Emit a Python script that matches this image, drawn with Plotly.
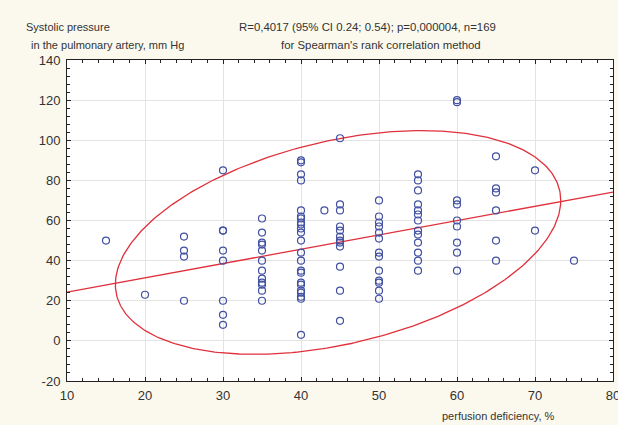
import numpy as np
import plotly.graph_objects as go

# ---- data ----
perfusion = (
    [15] + [20] + [25] * 4 + [30] * 8 + [35] * 12 + [40] * 23 + [43]
    + [45] * 12 + [50] * 13 + [55] * 13 + [60] * 9 + [65] * 6 + [70] * 2 + [75]
)
pressure = (
    [50]
    + [23]
    + [52, 45, 42, 20]
    + [85, 55, 55, 45, 40, 20, 13, 8]
    + [61, 54, 49, 48, 45, 40, 35, 31, 29, 28, 25, 20]
    + [90, 89, 83, 80, 65, 62, 61, 59, 58, 56, 54, 50, 44, 40, 35, 34, 29, 28, 25, 24, 22, 21, 3]
    + [65]
    + [101, 68, 65, 57, 55, 52, 50, 49, 47, 37, 25, 10]
    + [70, 62, 59, 57, 54, 51, 44, 42, 35, 30, 29, 25, 21]
    + [83, 80, 75, 68, 65, 63, 60, 55, 53, 49, 44, 40, 35]
    + [120, 119, 70, 68, 60, 57, 49, 44, 35]
    + [92, 76, 74, 65, 50, 40]
    + [85, 55]
    + [40]
)

# regression line parameters
fit_intercept = 17.15
fit_slope = 0.713
fit_x_range = [10, 80]

# 95% ellipse parameters
ell_cx, ell_cy = 44.75, 49.05
ell_half_w, ell_half_h = 28.55, 55.75
ell_r = 0.375

x_ticks = [10, 20, 30, 40, 50, 60, 70, 80]
y_ticks = [-20, 0, 20, 40, 60, 80, 100, 120, 140]

title_left = ["Systolic pressure", " in the pulmonary artery, mm Hg"]
title_right = ["R=0,4017 (95% CI 0.24; 0.54); p=0,000004, n=169",
               "for Spearman's rank correlation method"]
x_title = "perfusion deficiency, %"

# ---- figure ----
RED = "#E0303C"
BLUE = "#4150A0"
FONT = "Liberation Sans, Arial, sans-serif"

t = np.linspace(0, 2 * np.pi, 400)
theta = np.arccos(ell_r)
ex = ell_cx + ell_half_w * np.cos(t)
ey = ell_cy + ell_half_h * np.cos(t - theta)

lx = np.array(fit_x_range, dtype=float)
ly = fit_intercept + fit_slope * lx

fig = go.Figure()
fig.add_trace(go.Scatter(x=ex, y=ey, mode="lines",
                         line=dict(color=RED, width=1.3), hoverinfo="skip"))
fig.add_trace(go.Scatter(x=lx, y=ly, mode="lines",
                         line=dict(color=RED, width=1.3), hoverinfo="skip"))
fig.add_trace(go.Scatter(x=perfusion, y=pressure, mode="markers",
                         marker=dict(symbol="circle-open", size=7, color=BLUE,
                                     line=dict(width=1.2, color=BLUE))))

L, R, T, B = 67, 5, 60, 44
W, H = 618, 425
pw, ph = W - L - R, H - T - B


def px(x):
    return (x - L) / pw


def py(y):
    return (H - B - y) / ph


ann = []
for txt, x, y, fs in [(title_left[0], 24, 27, 11), (title_left[1], 26, 45, 11),
                      (title_right[0], 237, 27, 11.4), (title_right[1], 279, 45, 11.4)]:
    ann.append(dict(text=txt, x=px(x), y=py(y), xref="paper", yref="paper",
                    xanchor="left", yanchor="middle", showarrow=False,
                    font=dict(size=fs, color="#333333", family=FONT)))
ann.append(dict(text=x_title, x=px(498), y=py(416), xref="paper", yref="paper",
                xanchor="center", yanchor="middle", showarrow=False,
                font=dict(size=11, color="#333333", family=FONT)))

axis_common = dict(
    showgrid=True, gridcolor="#E3E3E3", gridwidth=1,
    zeroline=False, showline=True, linecolor="#222222", linewidth=1,
    mirror="allticks", ticks="inside", ticklen=4, tickcolor="#222222",
    tickfont=dict(size=13, color="#333333", family=FONT),
    ticklabeloverflow="allow", automargin=False,
)

fig.update_layout(
    width=W, height=H,
    margin=dict(l=L, r=R, t=T, b=B, autoexpand=False),
    paper_bgcolor="#FBF9EE", plot_bgcolor="#FFFFFF",
    showlegend=False,
    annotations=ann,
    xaxis=dict(range=[10, 80], tickvals=x_ticks, ticktext=[str(v) for v in x_ticks],
               ticklabelstandoff=2,
               minor=dict(dtick=2, ticks="inside", ticklen=3, tickcolor="#222222", showgrid=False),
               **axis_common),
    yaxis=dict(range=[-20, 140], tickvals=y_ticks, ticktext=[str(v) for v in y_ticks],
               ticklabelstandoff=3,
               minor=dict(dtick=4, ticks="inside", ticklen=3, tickcolor="#222222", showgrid=False),
               **axis_common),
)

fig.write_html("out.html")
